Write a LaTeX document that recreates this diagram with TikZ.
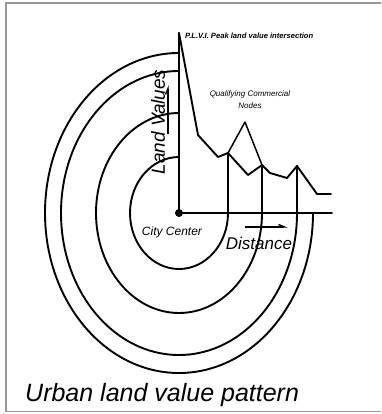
\documentclass[tikz,border=0pt]{standalone}
\usepackage{fontspec}
\setmainfont{Liberation Sans}
\usetikzlibrary{arrows.meta}
\begin{document}
\begin{tikzpicture}[x=1pt,y=1pt,
  ink/.style={line width=1.9pt, line join=round, line cap=round},
  ring/.style={line width=1.9pt},
  lbl/.style={inner sep=0pt, font=\itshape},
  harp/.style={line width=1.4pt, -{Straight Barb[left,length=6pt,width=5pt]}}]
\useasboundingbox (0,0) rectangle (381,-414);
\draw[gray!80, line width=1.5pt] (381,-3) -- (6,-3) -- (6,-411.5) -- (381,-411.5);
% city centre
\coordinate (C) at (179,-213);
\fill (C) circle (4pt) node[coordinate] (cc) {};
% axes
\coordinate (top) at (179,-33);
\coordinate (xend) at (332,-213);
\draw[ink] (C) -- (top);
\draw[ink] (C) -- (xend);
% rings (start at top, counterclockwise to the right side)
\draw[ring] (179,-157) arc[start angle=90, end angle=360, x radius=49, y radius=56] coordinate (r1);
\draw[ring] (179,-113) arc[start angle=90, end angle=360, x radius=83, y radius=100] coordinate (r2);
\draw[ring] (179,-71) arc[start angle=90, end angle=360, x radius=118, y radius=142] coordinate (r3);
\draw[ring] (179,-53) arc[start angle=90, end angle=360, x radius=134, y radius=160] coordinate (r4);
% land value curve
\coordinate (p1) at (228,-153);
\coordinate (p2) at (262,-165);
\coordinate (p3) at (297,-166);
\draw[ink] (top) -- (198,-135) -- (218,-157) -- (p1) -- (248,-175) -- (p2)
  -- (270,-173) -- (287,-178) -- (p3) -- (317,-194) -- (331,-194);
% verticals from nodes to rings
\draw[ink] (p1) -- (r1);
\draw[ink] (p2) -- (r2);
\draw[ink] (p3) -- (r3);
% qualifying commercial nodes
\node[lbl, font=\itshape\fontsize{8}{9}\selectfont, align=center] (qcn) at (250,-100)
  {Qualifying Commercial\\[3pt]Nodes};
\coordinate (qv) at (245,-122);
\draw[line width=1.5pt, line join=round] (p1) -- (qv) -- (p2);
% labels
\node[lbl, font=\bfseries\itshape\fontsize{7.6}{9}\selectfont, anchor=west] (plvi) at (185,-36)
  {P.L.V.I. Peak land value intersection};
\node[lbl, font=\itshape\fontsize{19}{20}\selectfont, rotate=90] (lv) at (158,-122) {Land Values};
\coordinate (la1) at (168,-134);
\coordinate (la2) at (168,-85);
\draw[harp] (la1) -- (la2);
\node[lbl, font=\itshape\fontsize{12}{13}\selectfont] (ctl) at (172,-232) {City Center};
\node[lbl, font=\itshape\fontsize{17}{18}\selectfont] (dl) at (259,-243) {Distance};
\coordinate (da1) at (245,-227);
\coordinate (da2) at (288,-227);
\draw[harp] (da1) -- (da2);
\node[lbl, font=\itshape\fontsize{25}{26}\selectfont, anchor=base west] (cap) at (25,-401)
  {Urban land value pattern};
\end{tikzpicture}
\end{document}
